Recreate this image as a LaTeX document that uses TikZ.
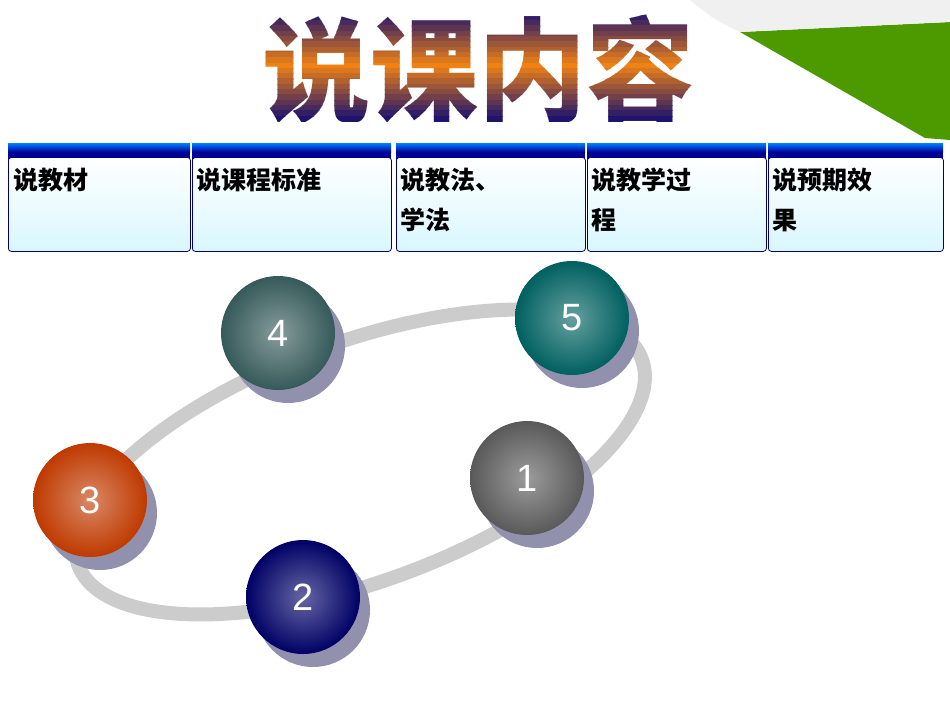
\documentclass[tikz,border=0pt]{standalone}
\usepackage{fontspec}
\newfontfamily\cjk{Noto Sans CJK SC}
\newfontfamily\cjkb{Noto Sans CJK SC Black}
\setmainfont{Liberation Sans}
\definecolor{tnavy}{RGB}{30,20,110}
\definecolor{torange}{RGB}{240,130,20}
\begin{document}
\begin{tikzpicture}[x=1pt,y=-1pt,
  boxst/.style={draw=blue!45!black,line width=0.8pt,rounded corners=3pt,top color=white,bottom color=blue!22!cyan!15},
  lab/.style={anchor=north west,font=\cjk\bfseries\fontsize{25}{40}\selectfont,align=left,inner sep=0pt},
  ball/.style={circle,minimum size=114pt,inner sep=0pt,font=\fontsize{38}{38}\selectfont,text=white},
  shad/.style={circle,minimum size=114pt,inner sep=0pt,fill=blue!15!gray!75}]
\useasboundingbox (0,0) rectangle (950,713);
\fill[white] (0,0) rectangle (950,713);
% corner
\fill[green!50!yellow!60!black] (740,32) -- (950,22) -- (950,140) -- (925,138) -- cycle;
\fill[gray!12] (690,0) -- (950,0) -- (950,22) -- (740,32) .. controls (715,20) .. (690,0);
% title
\def\ttl{\node[font=\cjkb\fontsize{108}{108}\selectfont,inner sep=0pt,yscale=1.05] (title) at (478,70) {说课内容};}
\foreach \i in {0,...,20}{
  \pgfmathsetmacro{\t}{100*abs(\i-10)/10}
  \begin{scope}\clip (0,10+\i*5.3) rectangle (950,15.4+\i*5.3);
  \begin{scope}[text=tnavy!\t!torange]\ttl\end{scope}\end{scope}
}
% boxes
\foreach \a/\b/\n in {8/190/b1,192/391/b2,396/585/b3,587/766/b4,768/943/b5}{
  \fill[blue!60!black] (\a,143) rectangle (\b,162);
  \fill[top color=blue!50!cyan,bottom color=blue!60!black] (\a,143) rectangle (\b,152);
  \node[boxst,minimum width=\b-\a,minimum height=94,anchor=north west] (\n) at (\a,157) {};
}
\node[lab] at (13,168) {说教材};
\node[lab] at (196,168) {说课程标准};
\node[lab] at (400,168) {说教法、\\学法};
\node[lab] at (591,168) {说教学过\\程};
\node[lab] at (772,168) {说预期效\\果};
% ring
\draw[gray!40,line width=14pt] (360,462) ellipse [x radius=300, y radius=120, rotate=20];
% balls
\foreach \x/\y/\c/\t/\n in {278/333/gray!60!teal!70!black/4/n4,572/318/teal!75!black/5/n5,90/500/orange!60!red!75!black/3/n3,527/478/gray!70!black/1/n1,303/597/blue!40!black/2/n2}{
  \node[shad] at (\x+10,\y+13) {};
  \node[ball,inner color=\c!60!white,outer color=\c] (\n) at (\x,\y) {\t};
}
\end{tikzpicture}
\end{document}
